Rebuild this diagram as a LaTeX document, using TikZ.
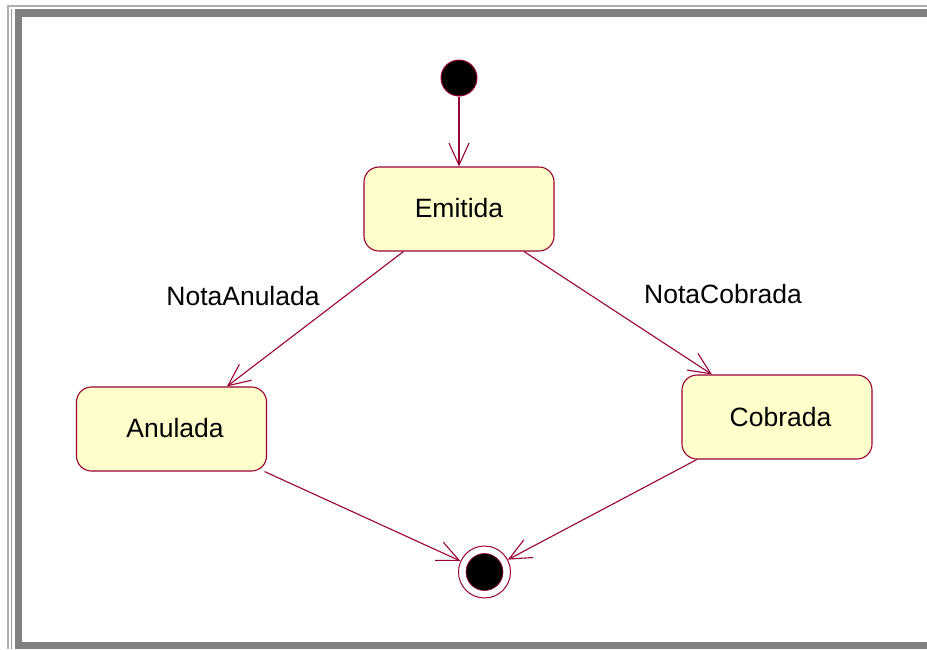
\documentclass[tikz,border=0pt]{standalone}
\usepackage{fontspec}
\setmainfont{Liberation Sans}
\usetikzlibrary{arrows.meta}
\definecolor{umlline}{RGB}{153,0,51}
\definecolor{umlfill}{RGB}{255,255,204}
\definecolor{framelight}{RGB}{175,175,175}
\definecolor{framedark}{RGB}{128,128,128}
\tikzset{
  statebox/.style={draw=umlline, fill=umlfill, line width=1.1pt, rounded corners=15pt,
    minimum width=190pt, minimum height=84pt, inner sep=0pt,
    font=\fontsize{26.5}{30}\selectfont},
  trans/.style={draw=umlline, line width=1.1pt,
    -{Straight Barb[length=22pt,width=20pt,line width=1.1pt]}},
  lbl/.style={font=\fontsize{26.5}{30}\selectfont, inner sep=0pt},
}
\begin{document}
\begin{tikzpicture}[x=1pt,y=-1pt]
\useasboundingbox (0,0) rectangle (927,649);
% frame
\draw[framelight, line width=2pt] (7,5.5) -- (927,5.5);
\draw[framelight, line width=2pt] (8,4.5) -- (8,649);
\draw[framedark!80, line width=1pt] (11.5,9) -- (11.5,649);
\fill[framedark] (15,9) rectangle (927,17);
\fill[framedark] (15,9) rectangle (22,649);
\fill[framedark] (15,642) rectangle (927,649);
% states
\node[circle, draw=umlline, fill=black, line width=1pt, minimum size=36pt, inner sep=0pt] (init) at (459,78) {};
\node[statebox] (emitida) at (459,209) {\raisebox{2.5pt}{Emitida}};
\node[statebox] (anulada) at (171.5,429) {\hspace{7pt}\raisebox{3pt}{Anulada}};
\node[statebox] (cobrada) at (777,417) {\hspace{7pt}\raisebox{1pt}{Cobrada}};
\node[circle, draw=umlline, fill=white, line width=1pt, minimum size=52pt, inner sep=0pt] (final) at (484.5,572) {};
\node[circle, fill=black, draw=umlline, line width=0.6pt, minimum size=37pt, inner sep=0pt] (finalin) at (final) {};
% labels
\node[lbl] (lblA) at (243,296) {NotaAnulada};
\node[lbl] (lblC) at (723,294) {NotaCobrada};
% transitions
\draw[trans] (init) -- (emitida);
\draw[trans] (emitida) -- (anulada);
\draw[trans] (emitida) -- (cobrada);
\draw[trans] (anulada) -- (final);
\draw[trans] (cobrada) -- (final);
\end{tikzpicture}
\end{document}
